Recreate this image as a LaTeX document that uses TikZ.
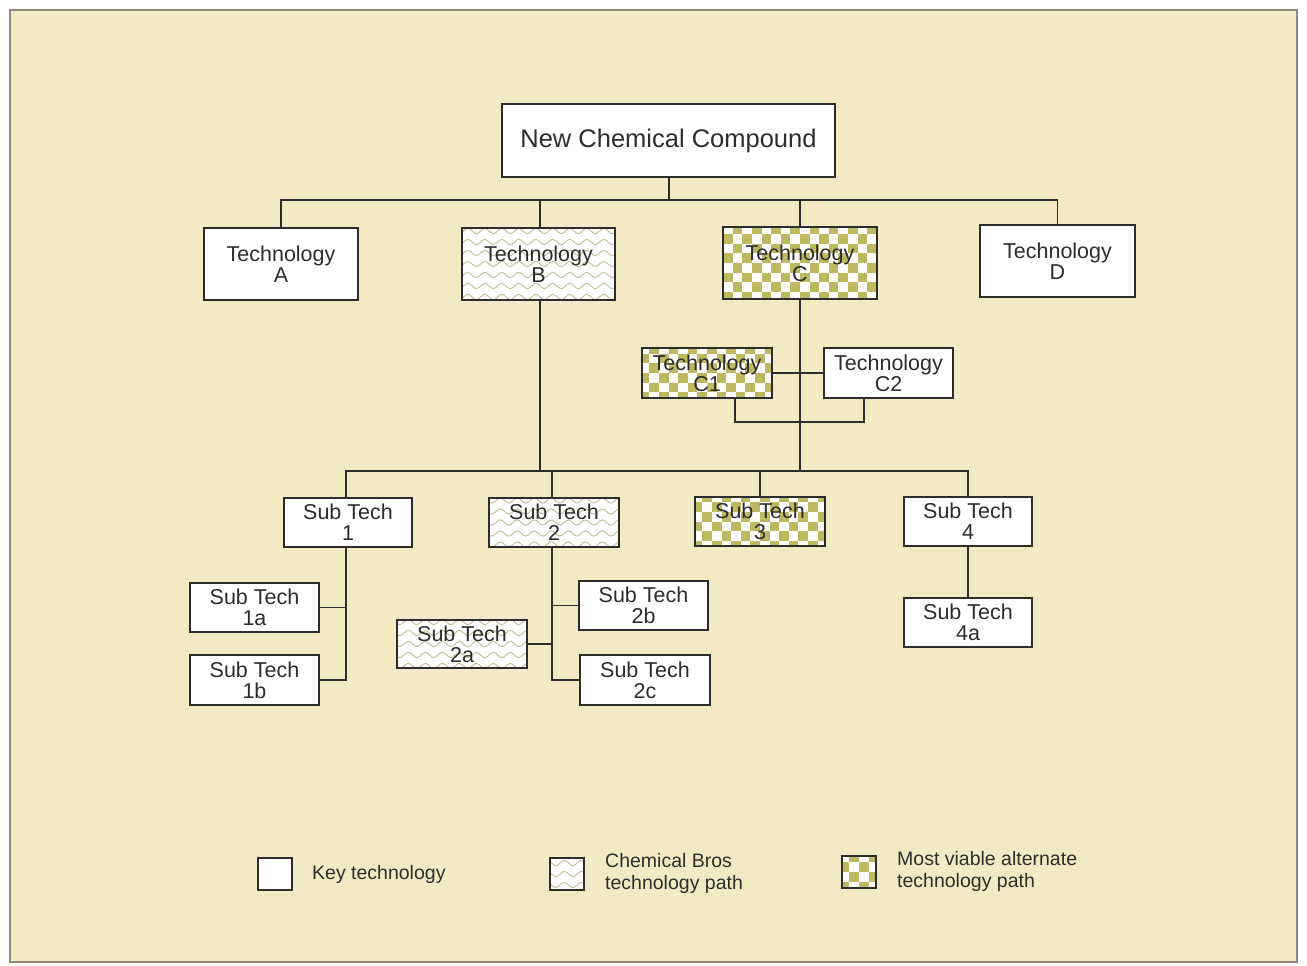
\documentclass[tikz,border=0pt]{standalone}
\usepackage{fontspec}
\setmainfont{Liberation Sans}
\usetikzlibrary{decorations.pathmorphing}
\definecolor{bgcol}{RGB}{243,234,196}
\definecolor{olivecol}{RGB}{190,184,96}
\definecolor{wavecol}{RGB}{192,188,152}
\definecolor{inkcol}{RGB}{45,45,45}
\definecolor{framecol}{RGB}{140,138,128}
\tikzset{
  box/.style={draw=inkcol, line width=1.8pt, fill=white, inner sep=0pt, align=center,
    text=inkcol, font=\fontsize{21.5}{21}\selectfont},
  wavy/.style={box, path picture={
    \foreach \k in {-5,...,5} {
      \draw[wavecol, line width=0.9pt, decorate, decoration={snake, segment length=17pt, amplitude=2.6pt}]
        ([shift={(-110pt,\k*11pt)}]path picture bounding box.center) -- ++(220pt,0pt);
    }}},
  checker/.style={box, path picture={
    \foreach \i in {-9,...,9} {
      \foreach \j in {-5,...,4} {
        \pgfmathtruncatemacro\chk{mod(\i+\j+100,2)}
        \ifnum\chk=0
          \fill[olivecol] ([shift={(\i*9.6pt,\j*9.6pt)}]path picture bounding box.center) rectangle ++(9.6pt,9.6pt);
        \fi
      }}}},
  link/.style={draw=inkcol, line width=1.6pt},
  legtext/.style={text=inkcol, font=\fontsize{19.5}{22}\selectfont, align=left, inner sep=0pt, anchor=west},
}
\begin{document}
\begin{tikzpicture}[x=1pt,y=-1pt]
\useasboundingbox (0,0) rectangle (1307,966);
\fill[white] (0,0) rectangle (1307,966);
\fill[bgcol] (10,10) rectangle (1297,962);
\draw[framecol, line width=1.5pt] (10,10) rectangle (1297,962);

% top level
\node[box, minimum width=333pt, minimum height=73pt, font=\fontsize{25.5}{25.5}\selectfont] (root) at (668.5,140.5) {New Chemical Compound};
\node[box, minimum width=154pt, minimum height=72pt] (A) at (281,264) {Technology\\A};
\node[wavy, minimum width=153pt, minimum height=72pt] (B) at (538.5,264) {Technology\\B};
\node[checker, minimum width=154pt, minimum height=72pt] (C) at (800,263) {Technology\\C};
\node[box, minimum width=155pt, minimum height=72pt] (D) at (1057.5,261) {Technology\\D};

\node[checker, minimum width=130pt, minimum height=50pt] (C1) at (707,373) {Technology\\C1};
\node[box, minimum width=129pt, minimum height=50pt] (C2) at (888.5,373) {Technology\\C2};

\node[box, minimum width=128pt, minimum height=49pt] (S1) at (348,522.5) {Sub Tech\\1};
\node[wavy, minimum width=130pt, minimum height=49pt] (S2) at (554,522.5) {Sub Tech\\2};
\node[checker, minimum width=130pt, minimum height=49pt] (S3) at (760,521.5) {Sub Tech\\3};
\node[box, minimum width=128pt, minimum height=49pt] (S4) at (968,521.5) {Sub Tech\\4};
\node[box, minimum width=128pt, minimum height=49pt] (S4a) at (968,622.5) {Sub Tech\\4a};

\node[box, minimum width=129pt, minimum height=49pt] (S1a) at (254.5,607.5) {Sub Tech\\1a};
\node[box, minimum width=129pt, minimum height=50pt] (S1b) at (254.5,680) {Sub Tech\\1b};
\node[wavy, minimum width=130pt, minimum height=48pt] (S2a) at (462,644) {Sub Tech\\2a};
\node[box, minimum width=129pt, minimum height=49pt] (S2b) at (643.5,605.5) {Sub Tech\\2b};
\node[box, minimum width=130pt, minimum height=50pt] (S2c) at (645,680) {Sub Tech\\2c};

% connectors level 1
\coordinate (bus1) at (669,200);
\coordinate (Rs) at (669,177);
\draw[link] (Rs) -- (bus1);
\draw[link] (A.north) |- (bus1) -| (D.north);
\coordinate (Bn) at ([xshift=1.5pt]B.north);
\coordinate (Bs) at ([xshift=1.5pt]B.south);
\draw[link] (Bn) -- (Bn |- bus1);
\draw[link] (C.north) -- (C.north |- bus1);

% C1 / C2
\draw[link] (C1.east) -- (C2.west);
\coordinate (brk) at (800,422);
\coordinate (C1b) at ([xshift=28pt]C1.south);
\coordinate (C2b) at ([xshift=-24.5pt]C2.south);
\draw[link] (C1b) |- (brk) -| (C2b);

% level 2 bus
\coordinate (bus2) at (800,471);
\coordinate (S1n) at ([xshift=-2pt]S1.north);
\coordinate (S1s) at ([xshift=-2pt]S1.south);
\coordinate (S2n) at ([xshift=-2pt]S2.north);
\coordinate (S2s) at ([xshift=-2pt]S2.south);
\draw[link] (C.south) -- (bus2);
\draw[link] (S1n) |- (bus2) -| (S4.north);
\draw[link] (Bs) -- (Bs |- bus2);
\draw[link] (S2n) -- (S2n |- bus2);
\draw[link] (S3.north) -- (S3.north |- bus2);

% Sub tech 1 chain
\draw[link] (S1s) -- (S1s |- S1b.east) -- (S1b.east);
\draw[link] (S1a.east) -- (S1a.east -| S1s);

% Sub tech 2 chain
\draw[link] (S2s) |- (S2c.west);
\draw[link] (S2a.east) -- (S2a.east -| S2s);
\draw[link] (S2b.west) -- (S2b.west -| S2s);

% Sub tech 4
\draw[link] (S4.south) -- (S4a.north);

% legend
\node[box, minimum width=34pt, minimum height=32pt] (L1) at (275,874) {};
\node[legtext] (L1t) at (312,874) {Key technology};
\node[wavy, minimum width=34pt, minimum height=32pt] (L2) at (567,874) {};
\node[legtext] (L2t) at (605,873) {Chemical Bros\\technology path};
\node[checker, minimum width=34pt, minimum height=32pt] (L3) at (859,872) {};
\node[legtext] (L3t) at (897,871) {Most viable alternate\\technology path};
\end{tikzpicture}
\end{document}
